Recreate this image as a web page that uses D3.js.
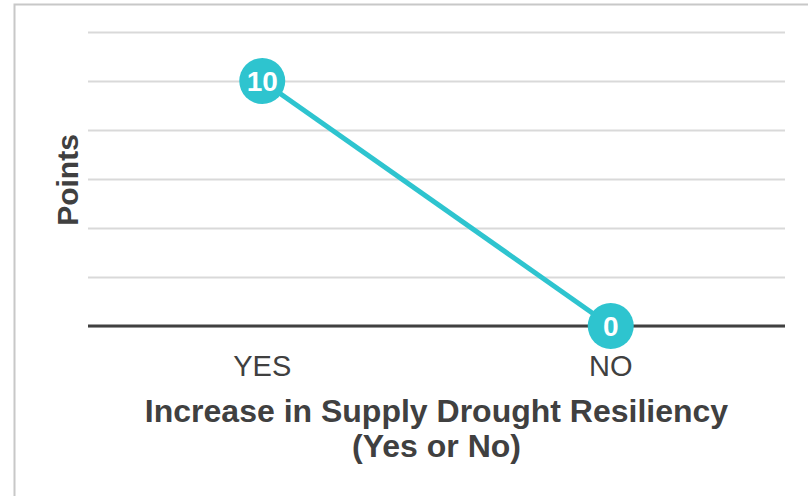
<!DOCTYPE html>
<html>
<head>
<meta charset="utf-8">
<script src="https://cdn.jsdelivr.net/npm/d3@7"></script>
<style>
  html, body { margin: 0; padding: 0; background: #fff; }
  svg { display: block; }
</style>
</head>
<body>
<svg id="chart" width="808" height="496"></svg>
<script>
// Points awarded for each answer
const categories = ["YES", "NO"];
const pointValues = [10, 0];
const yTicks = [0, 2, 4, 6, 8, 10, 12];
const xTitleLines = ["Increase in Supply Drought Resiliency", "(Yes or No)"];
const yTitle = "Points";

const W = 808, H = 496;
const margin = { left: 88, right: 23, top: 32, bottom: 170 };
const svg = d3.select("#chart");
const font = "'Liberation Sans', Arial, sans-serif";
const teal = "#2EC4CF";
const dark = "#404040";

// outer frame
svg.append("rect")
  .attr("x", 14.5).attr("y", 4.5)
  .attr("width", W + 20).attr("height", H + 20)
  .attr("fill", "none").attr("stroke", "#c8c8c8").attr("stroke-width", 2);

const x = d3.scaleBand().domain(categories)
  .range([margin.left, W - margin.right]);
const y = d3.scaleLinear().domain([0, 12])
  .range([H - margin.bottom, margin.top]);

// horizontal gridlines
const yAxis = d3.axisLeft(y).tickValues(yTicks)
  .tickSize(-(W - margin.left - margin.right)).tickFormat("");
const gy = svg.append("g")
  .attr("transform", `translate(${margin.left},0)`)
  .call(yAxis);
gy.select(".domain").remove();
gy.selectAll(".tick line")
  .attr("stroke", "#d9d9d9").attr("stroke-width", 2);

// baseline + category labels
const xAxis = d3.axisBottom(x).tickSize(0);
const gx = svg.append("g")
  .attr("transform", `translate(0,${y(0)})`)
  .call(xAxis);
gx.select(".domain").attr("stroke", dark).attr("stroke-width", 3)
  .attr("d", `M${margin.left},0H${W - margin.right}`);
gx.selectAll(".tick text")
  .attr("font-family", font).attr("font-size", 29)
  .attr("fill", dark).attr("y", 50).attr("dy", 0);

// connecting line
const data = categories.map((c, i) => ({ c, v: pointValues[i] }));
const cx = d => x(d.c) + x.bandwidth() / 2;
svg.append("path")
  .datum(data)
  .attr("fill", "none").attr("stroke", teal).attr("stroke-width", 5)
  .attr("d", d3.line().x(cx).y(d => y(d.v)));

// value markers
const mk = svg.append("g").selectAll("g").data(data).join("g")
  .attr("transform", d => `translate(${cx(d)},${y(d.v)})`);
mk.append("circle").attr("r", 23).attr("fill", teal);
mk.append("text")
  .attr("text-anchor", "middle").attr("y", 10)
  .attr("font-family", font).attr("font-weight", "bold")
  .attr("font-size", 28).attr("fill", "#fff")
  .text(d => d.v);

// axis titles
const midX = (margin.left + W - margin.right) / 2;
svg.append("text")
  .attr("text-anchor", "middle")
  .attr("font-family", font).attr("font-weight", "bold")
  .attr("font-size", 32).attr("fill", dark)
  .selectAll("tspan").data(xTitleLines).join("tspan")
  .attr("x", midX)
  .attr("y", (d, i) => 422 + i * 35)
  .text(d => d);

svg.append("text")
  .attr("transform", `translate(78,${y(6) + 1}) rotate(-90)`)
  .attr("text-anchor", "middle")
  .attr("font-family", font).attr("font-weight", "bold")
  .attr("font-size", 30).attr("fill", dark)
  .text(yTitle);
</script>
</body>
</html>
